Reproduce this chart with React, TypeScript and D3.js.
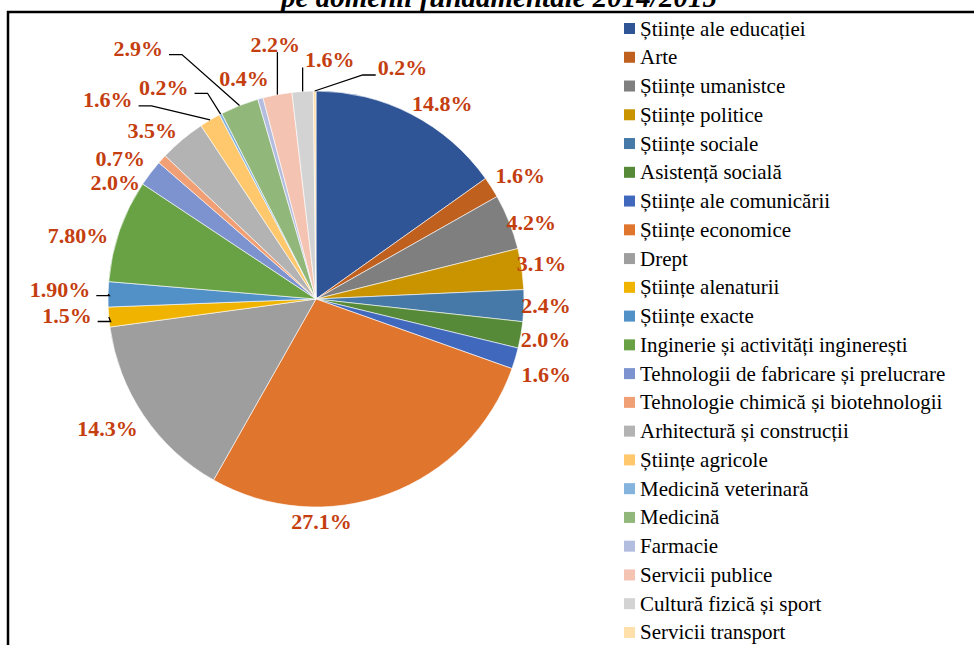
import React from "react";
import * as d3 from "d3";

const categories = [
  "Științe ale educației",
  "Arte",
  "Științe umanistce",
  "Științe politice",
  "Științe sociale",
  "Asistență socială",
  "Științe ale comunicării",
  "Științe economice",
  "Drept",
  "Științe alenaturii",
  "Științe exacte",
  "Inginerie și activități inginerești",
  "Tehnologii de fabricare și prelucrare",
  "Tehnologie chimică și biotehnologii",
  "Arhitectură și construcții",
  "Științe agricole",
  "Medicină veterinară",
  "Medicină",
  "Farmacie",
  "Servicii publice",
  "Cultură fizică și sport",
  "Servicii transport",
];

const values = [14.8, 1.6, 4.2, 3.1, 2.4, 2.0, 1.6, 27.1, 14.3, 1.5, 1.9, 7.8, 2.0, 0.7, 3.5, 1.6, 0.2, 2.9, 0.4, 2.2, 1.6, 0.2];

const valueLabels = ["14.8%", "1.6%", "4.2%", "3.1%", "2.4%", "2.0%", "1.6%", "27.1%", "14.3%", "1.5%", "1.90%", "7.80%", "2.0%", "0.7%", "3.5%", "1.6%", "0.2%", "2.9%", "0.4%", "2.2%", "1.6%", "0.2%"];

const colors = [
  "#2F5597", "#C0601F", "#7F7F7F", "#C99400", "#4679A8", "#568A38",
  "#4069BE", "#E0752E", "#9E9E9E", "#F0B400", "#5290C8", "#68A244",
  "#7C93CF", "#F1A075", "#B3B3B3", "#FFC86C", "#84B3DE", "#91B87A",
  "#B3BDE0", "#F4C3B2", "#D3D3D3", "#FFDFAA",
];

// label nudges relative to default outside position (layout only)
const labelNudges: [number, number][] = [
  [18, 14], [5, 3], [-4, 11], [-8, -1], [-6, -1], [-3, 0], [4, 8], [-77, 1],
  [-13, -3], [-14, -4], [-20, -4], [-15, 14], [-13, 26], [-21, 18], [-12, 12],
  [-88, 4], [-44, -2], [-91, -31], [-9, 7], [3, -23], [29, -4], [88, 5],
];

// leader line styles per slice index
const leaderKinds: Record<number, string> = { 9: "h", 10: "h", 15: "h", 16: "h", 17: "h", 19: "v", 20: "v", 21: "h" };

const title = "pe domenii fundamentale 2014/2015";

const W = 974;
const H = 645;
const cx = 316;
const cy = 299;
const R = 208;
const labelR = R + 28;
const labelFs = 22;
const labelColor = "#C43E10";
const serif = "'Liberation Serif', 'Times New Roman', Times, serif";

function textWidth(s: string, fs: number) {
  let w = 0;
  for (const ch of s) {
    if (ch === ".") w += 0.25;
    else if (ch === "%") w += 1.0;
    else w += 0.5;
  }
  return w * fs;
}

export default function App() {
  const pie = d3.pie<number>().sort(null).value((d) => d).startAngle(0).endAngle(2 * Math.PI);
  const arcs = pie(values);
  const arcGen = d3.arc<d3.PieArcDatum<number>>().innerRadius(0).outerRadius(R);

  const legendX = 624;
  const legendY0 = 28.5;
  const legendStep = 28.76;

  return (
    <svg width={W} height={H} style={{ position: "absolute", left: 0, top: 0, background: "#fff" }}>
      <text
        x={499}
        y={7}
        textAnchor="middle"
        fontFamily={serif}
        fontWeight="bold"
        fontStyle="italic"
        fontSize={29}
        fill="#000"
      >
        {title}
      </text>
      <rect x={8} y={12} width={1200} height={1200} fill="none" stroke="#000" strokeWidth={2.5} />
      <g transform={`translate(${cx},${cy})`}>
        {arcs.map((a, i) => (
          <path key={i} d={arcGen(a) || ""} fill={colors[i]} stroke="#fff" strokeWidth={0.6} />
        ))}
      </g>
      {arcs.map((a, i) => {
        const mid = (a.startAngle + a.endAngle) / 2;
        const lx = cx + labelR * Math.sin(mid) + labelNudges[i][0];
        const ly = cy - labelR * Math.cos(mid) + labelNudges[i][1];
        const kind = leaderKinds[i];
        let leader = null;
        if (kind) {
          const ax = cx + R * Math.sin(mid);
          const ay = cy - R * Math.cos(mid);
          const w = textWidth(valueLabels[i], labelFs);
          let pts: [number, number][];
          if (kind === "v") {
            pts = [[ax, ay], [ax, ly + 8]];
          } else if (lx < ax) {
            const ex = lx + w / 2 + 6;
            const ey = ly + 6;
            pts = [[ax, ay], [ex + 13, ey], [ex, ey]];
          } else {
            const ex = lx - w / 2 - 2;
            const ey = ly + 7;
            pts = [[ax, ay], [ex - 13, ey], [ex, ey]];
          }
          leader = (
            <polyline
              points={pts.map((p) => p.join(",")).join(" ")}
              fill="none"
              stroke="#000"
              strokeWidth={1.3}
            />
          );
        }
        return (
          <g key={i}>
            {leader}
            <text
              x={lx}
              y={ly + labelFs * 0.34}
              textAnchor="middle"
              fontFamily={serif}
              fontWeight="bold"
              fontSize={labelFs}
              fill={labelColor}
            >
              {valueLabels[i]}
            </text>
          </g>
        );
      })}
      {categories.map((c, i) => {
        const yc = legendY0 + i * legendStep;
        return (
          <g key={c}>
            <rect x={legendX} y={yc - 5.5} width={11} height={11} fill={colors[i]} />
            <text x={legendX + 16} y={yc + 7} fontFamily={serif} fontSize={21} fill="#000">
              {c}
            </text>
          </g>
        );
      })}
    </svg>
  );
}
